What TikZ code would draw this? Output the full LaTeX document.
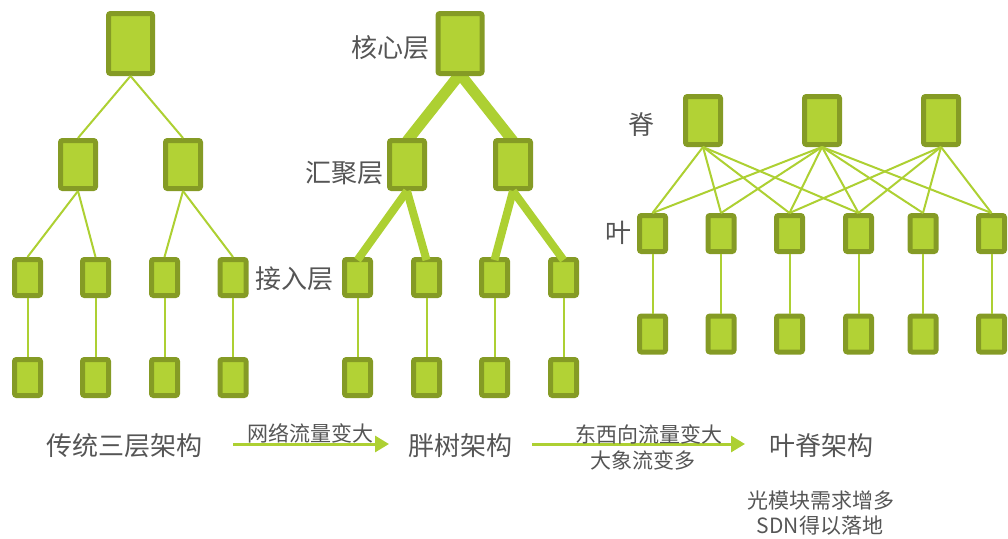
\documentclass[tikz,border=0pt]{standalone}
\usepackage{fontspec}
\setmainfont{Noto Sans CJK SC}
\usetikzlibrary{arrows.meta}
\definecolor{boxfill}{HTML}{B2D235}
\definecolor{boxdraw}{HTML}{859B25}
\definecolor{linkc}{HTML}{ADD032}
\definecolor{txt}{HTML}{555555}
\tikzset{
  bigbox/.style={draw=boxdraw, fill=boxfill, line width=5pt, rounded corners=2pt, inner sep=0pt, minimum width=44pt, minimum height=60pt},
  midbox/.style={draw=boxdraw, fill=boxfill, line width=5pt, rounded corners=2pt, inner sep=0pt, minimum width=35pt, minimum height=48pt},
  smallbox/.style={draw=boxdraw, fill=boxfill, line width=5pt, rounded corners=2pt, inner sep=0pt, minimum width=26pt, minimum height=36pt},
  thin/.style={draw=linkc, line width=2pt},
  thickA/.style={draw=linkc, line width=11pt},
  thickB/.style={draw=linkc, line width=8pt},
  flow/.style={draw=linkc, line width=3pt, -{Triangle[length=14pt,width=16pt]}},
  bigtxt/.style={text=txt, inner sep=0pt, font=\fontsize{26}{30}\selectfont},
  smalltxt/.style={text=txt, inner sep=0pt, font=\fontsize{21}{24}\selectfont},
}
\begin{document}
\begin{tikzpicture}[x=1pt,y=-1pt]
\useasboundingbox (0,0) rectangle (1008,538);
% ---------- left: traditional three-tier ----------
\node[bigbox] (L0) at (130.5,43.5) {};
\node[midbox] (L1) at (78,164.5) {};
\node[midbox] (L2) at (183,164.5) {};
\foreach \i/\x in {1/27.5,2/95.5,3/164.5,4/233}{
  \node[smallbox] (La\i) at (\x,277.5) {};
  \node[smallbox] (Lb\i) at (\x,377.5) {};
}
\draw[thin] (L0.south) -- (L1.north);
\draw[thin] (L0.south) -- (L2.north);
\draw[thin] (L1.south) -- (La1.north);
\draw[thin] (L1.south) -- (La2.north);
\draw[thin] (L2.south) -- (La3.north);
\draw[thin] (L2.south) -- (La4.north);
\foreach \i in {1,...,4}{ \draw[thin] (La\i.south) -- (Lb\i.north); }
% ---------- middle: fat tree ----------
\coordinate (apex) at (460,74);
\coordinate (m1top) at (407,141);
\coordinate (m2top) at (513,141);
\draw[thickA] (apex) -- (m1top);
\draw[thickA] (apex) -- (m2top);
\node[bigbox] (M0) at (460,43.5) {};
\node[midbox] (M1) at (407,164.5) {};
\node[midbox] (M2) at (513,164.5) {};
\foreach \i/\x in {1/357.5,2/426.5,3/494.5,4/563.5}{
  \node[smallbox] (Ma\i) at (\x,277.5) {};
  \node[smallbox] (Mb\i) at (\x,377.5) {};
}
\draw[thickB] (M1.south) -- ([yshift=-3pt]Ma1.north);
\draw[thickB] (M1.south) -- ([yshift=-3pt]Ma2.north);
\draw[thickB] (M2.south) -- ([yshift=-3pt]Ma3.north);
\draw[thickB] (M2.south) -- ([yshift=-3pt]Ma4.north);
\foreach \i in {1,...,4}{ \draw[thin] (Ma\i.south) -- (Mb\i.north); }
\node[bigtxt, anchor=east] (lcore) at (430,48) {核心层};
\node[bigtxt, anchor=east] (lagg) at (384,173) {汇聚层};
\node[bigtxt, anchor=east] (lacc) at (334,279) {接入层};
% ---------- right: spine-leaf ----------
\node[midbox] (S1) at (703,120.5) {};
\node[midbox] (S2) at (822,120.5) {};
\node[midbox] (S3) at (941,120.5) {};
\foreach \i/\x in {1/652.5,2/721,3/789.5,4/858.5,5/923,6/991.5}{
  \node[smallbox] (F\i) at (\x,233.5) {};
  \node[smallbox] (G\i) at (\x,334) {};
  \draw[thin] (F\i.south) -- (G\i.north);
}
\foreach \i in {1,...,4}{ \draw[thin] (S1.south) -- (F\i.north); }
\foreach \i in {1,...,6}{ \draw[thin] (S2.south) -- (F\i.north); }
\foreach \i in {3,...,6}{ \draw[thin] (S3.south) -- (F\i.north); }
\node[bigtxt] (lspine) at (641,125) {脊};
\node[bigtxt] (lleaf) at (618,233) {叶};
% ---------- bottom captions ----------
\node[bigtxt] (t1) at (124,446) {传统三层架构};
\node[bigtxt] (t2) at (460,446) {胖树架构};
\node[bigtxt] (t3) at (821,446) {叶脊架构};
\coordinate (a1s) at (233,444);
\coordinate (a1e) at (389,444);
\coordinate (a2s) at (532,444);
\coordinate (a2e) at (745,444);
\draw[flow] (a1s) -- (a1e);
\draw[flow] (a2s) -- (a2e);
\node[smalltxt] (e1) at (310,433) {网络流量变大};
\node[smalltxt] (e2) at (649,434) {东西向流量变大};
\node[smalltxt] (e3) at (643,460) {大象流变多};
\node[smalltxt] (n1) at (821,501) {光模块需求增多};
\node[smalltxt] (n2) at (820,526) {SDN得以落地};
\end{tikzpicture}
\end{document}
